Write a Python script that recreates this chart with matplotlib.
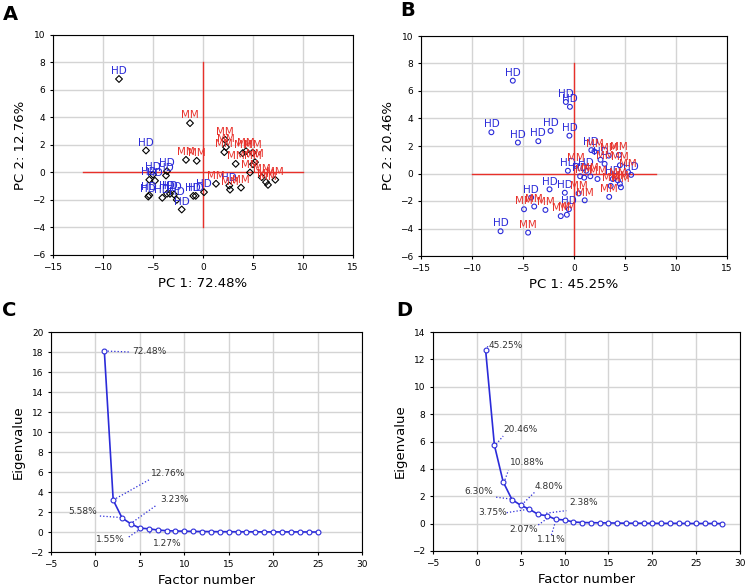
import numpy as np
import matplotlib.pyplot as plt

# ---- panel A: scores, PC1 72.48 %, PC2 12.76 %
a_hd_x = [-8.4, -5.7, -5.37, -4.8, -5.0, -3.7, -3.6, -5.47, -5.37, -4.07, -3.6, -3.3, -2.9, -2.63, -2.13, -0.97, -0.73, 0.1, 2.63]
a_hd_y = [6.8, 1.6, -0.53, -0.6, -0.15, -0.22, 0.1, -1.75, -1.65, -1.84, -1.55, -1.55, -1.6, -1.99, -2.69, -1.7, -1.7, -1.43, -0.95]
a_mm_x = [-1.3, -1.7, -0.63, 2.2, 2.3, 2.13, 3.97, 4.3, 4.97, 3.27, 5.2, 5.0, 4.7, 5.87, 6.3, 6.5, 7.23, 1.3, 2.7, 3.8]
a_mm_y = [3.59, 0.92, 0.85, 2.38, 1.85, 1.48, 1.41, 1.55, 1.45, 0.63, 0.75, 0.6, 0.0, -0.34, -0.7, -0.9, -0.53, -0.82, -1.25, -1.1]

# ---- panel B: scores, PC1 45.25 %, PC2 20.46 %
b_hd_x = [-6.0, -0.8, -0.4, -8.1, -5.5, -3.5, -2.3, -0.45, -0.6, -7.2, -4.2, -2.4, -0.9, -0.5, 1.7, 1.2, 2.6, 3.8, 5.6, 0.6]
b_hd_y = [6.75, 5.2, 4.85, 3.0, 2.25, 2.35, 3.1, 2.75, 0.2, -4.2, -1.75, -1.15, -1.4, -2.6, 1.7, 0.2, 1.0, -0.4, -0.1, -0.2]
b_mm_x = [-4.5, -4.9, -3.9, -2.8, -1.3, -0.7, 0.45, 1.05, 3.45, 0.2, 2.0, 3.4, 4.4, 3.0, 4.5, 5.3, 1.0, 1.6, 2.3, 4.3, 4.5, 4.6, 3.6]
b_mm_y = [-4.3, -2.6, -2.4, -2.65, -3.1, -3.0, -1.45, -1.95, -1.7, 0.55, 1.6, 1.3, 1.35, 0.7, 0.6, 0.1, -0.3, -0.2, -0.4, -0.5, -0.75, -1.0, -0.9]

# ---- panel C / D: eigenvalues
c_eig = [18.12, 3.19, 1.40, 0.81, 0.39, 0.32, 0.20, 0.13, 0.10, 0.08, 0.06, 0.05, 0.04,
         0.03, 0.03, 0.02, 0.02, 0.02, 0.01, 0.01, 0.01, 0.01, 0.01, 0.0, 0.0]
d_eig = [12.67, 5.73, 3.05, 1.76, 1.34, 1.05, 0.67, 0.58, 0.31, 0.27, 0.12, 0.08, 0.07,
         0.06, 0.05, 0.04, 0.03, 0.03, 0.03, 0.02, 0.02, 0.02, 0.02, 0.01, 0.01, 0.01, 0.01, 0.0]
c_pct = ['72.48%', '12.76%', '5.58%', '3.23%', '1.55%', '1.27%']
d_pct = ['45.25%', '20.46%', '10.88%', '6.30%', '4.80%', '3.75%', '2.38%', '2.07%', '1.11%']

# annotation layout: (line x0, y0, x1, y1, text x, text y, ha)
c_ann = [(1.0, 18.1, 3.9, 18.0, 4.1, 18.0, 'left'),
         (2.0, 3.2, 6.2, 5.3, 6.3, 5.8, 'left'),
         (0.5, 1.6, 3.2, 1.43, 0.2, 2.05, 'right'),
         (3.9, 0.8, 6.9, 2.7, 7.3, 3.25, 'left'),
         (3.75, -0.5, 5.1, 0.33, 3.3, -0.8, 'right'),
         (6.0, 0.3, 6.2, -0.3, 6.5, -1.2, 'left')]
d_ann = [(1.0, 12.67, 1.3, 13.0, 1.3, 13.05, 'left'),
         (2.2, 5.8, 3.0, 6.4, 3.0, 6.85, 'left'),
         (3.2, 3.2, 3.6, 3.9, 3.8, 4.5, 'left'),
         (2.2, 1.93, 4.1, 1.78, 1.9, 2.34, 'right'),
         (5.1, 1.37, 6.6, 2.3, 6.6, 2.68, 'left'),
         (3.4, 0.8, 6.05, 1.07, 3.4, 0.8, 'right'),
         (7.9, 0.76, 10.2, 0.95, 10.6, 1.55, 'left'),
         (7.0, -0.1, 8.3, 0.51, 7.0, -0.4, 'right'),
         (8.5, -0.83, 8.9, 0.02, 6.8, -1.15, 'left')]

blue = '#2b2bd9'
red = '#e8302a'

fig = plt.figure(figsize=(7.47, 5.86), dpi=100)
W, H = 747, 586


def box(l, t, r, b):
    return [l / W, 1 - b / H, (r - l) / W, (b - t) / H]


def style(ax):
    ax.grid(True, color='#d4d4d4', lw=1)
    ax.set_axisbelow(True)
    ax.tick_params(labelsize=6.5, length=2, direction='out')
    for s in ax.spines.values():
        s.set_linewidth(0.8)


def scores(ax, hx, hy, mx, my, mcol, hmcol, hlim, vlim):
    ax.plot(hlim, [0, 0], color=red, lw=1, zorder=2)
    ax.plot([0, 0], vlim, color=red, lw=1, zorder=2)
    ax.scatter(hx, hy, marker=hmcol[0], s=12, facecolors='none', edgecolors=hmcol[1], lw=0.8, zorder=3)
    ax.scatter(mx, my, marker=mcol[0], s=12, facecolors='none', edgecolors=mcol[1], lw=0.8, zorder=3)
    for x, y in zip(hx, hy):
        ax.annotate('HD', (x, y), xytext=(0, 2), textcoords='offset points',
                    ha='center', va='bottom', fontsize=7.5, color=blue, zorder=4)
    for x, y in zip(mx, my):
        ax.annotate('MM', (x, y), xytext=(0, 2), textcoords='offset points',
                    ha='center', va='bottom', fontsize=7.5, color=red, zorder=4)
    ax.set_xlim(-15, 15)
    ax.set_ylim(-6, 10)
    ax.set_xticks(range(-15, 16, 5))
    ax.set_yticks(range(-6, 11, 2))


def scree(ax, eig, pct, ann, ylim, yticks):
    n = np.arange(1, len(eig) + 1)
    ax.plot(n, eig, color=blue, lw=1.2, marker='o', ms=3.5, mfc='white', mec=blue, mew=0.8, zorder=3)
    for p, (x0, y0, x1, y1, tx, ty, ha) in zip(pct, ann):
        ax.plot([x0, x1], [y0, y1], color=blue, lw=0.9, ls=':', zorder=2)
        ax.text(tx, ty, p, fontsize=6.5, ha=ha, va='center', color='#333333')
    ax.set_xlim(-5, 30)
    ax.set_ylim(*ylim)
    ax.set_xticks(range(-5, 31, 5))
    ax.set_yticks(yticks)
    ax.set_xlabel('Factor number', fontsize=9.5)
    ax.set_ylabel('Eigenvalue', fontsize=9.5)


axA = fig.add_axes(box(53, 35, 353, 255))
style(axA)
scores(axA, a_hd_x, a_hd_y, a_mm_x, a_mm_y, ('D', 'black'), ('D', 'black'), [-12, 10], [-4, 8])
axA.set_xlabel('PC 1: 72.48%', fontsize=9.5)
axA.set_ylabel('PC 2: 12.76%', fontsize=9.5)

axB = fig.add_axes(box(421, 36, 727, 256))
style(axB)
scores(axB, b_hd_x, b_hd_y, b_mm_x, b_mm_y, ('o', blue), ('o', blue), [-10, 8], [-6, 8])
axB.set_xlabel('PC 1: 45.25%', fontsize=9.5)
axB.set_ylabel('PC 2: 20.46%', fontsize=9.5)

axC = fig.add_axes(box(51, 332, 362, 552))
style(axC)
scree(axC, c_eig, c_pct, c_ann, (-2, 20), range(-2, 21, 2))

axD = fig.add_axes(box(433, 332, 740, 551))
style(axD)
scree(axD, d_eig, d_pct, d_ann, (-2, 14), range(-2, 15, 2))

for lab, x, y in [('A', 10, 14), ('B', 408, 11), ('C', 9, 310), ('D', 404, 310)]:
    fig.text(x / W, 1 - y / H, lab, fontsize=14, fontweight='bold', ha='center', va='center')

fig.savefig('out.png', dpi=100)
